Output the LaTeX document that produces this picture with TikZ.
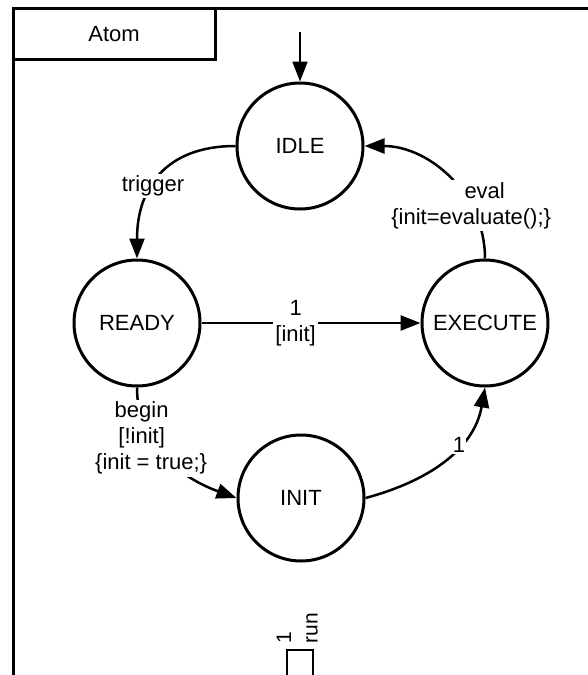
\documentclass[tikz,border=0pt]{standalone}
\usepackage{fontspec}
\setmainfont{Liberation Sans}
\usetikzlibrary{arrows.meta}
\begin{document}
\begin{tikzpicture}[x=1pt,y=1pt,
  txt/.style={font=\fontsize{22pt}{26pt}\selectfont},
  state/.style={circle,draw,line width=3pt,minimum size=126pt,inner sep=0pt,txt},
  trans/.style={line width=2.5pt,-{Triangle[length=20pt,width=15pt]}},
  lbl/.style={fill=white,inner sep=2pt,align=center,txt},
  portlbl/.style={rotate=90,inner sep=0pt,font=\fontsize{21pt}{24pt}\selectfont}]
\useasboundingbox (0,0) rectangle (588,-675);
\clip (0,0) rectangle (588,-675);
\fill[white] (0,0) rectangle (588,-675);
% outer frame (only left and top visible)
\draw[line width=3pt] (13,-720) -- (13,-8.5) -- (640,-8.5);
\node[draw,line width=3pt,minimum width=202pt,minimum height=51pt,inner sep=0pt,txt] (atom) at (114,-34) {Atom};
% states
\node[state] (idle) at (300,-146) {IDLE};
\node[state] (ready) at (137,-323) {READY};
\node[state] (exec) at (485,-323) {EXECUTE};
\node[state] (init) at (301,-498) {INIT};
% initial arrow
\coordinate (start) at (300,-32);
\draw[trans,line width=2pt] (start) -- (idle.north);
% transitions
\draw[trans] (idle.west) to[out=180,in=90,looseness=1.2] node[lbl,pos=0.58]{trigger} (ready.north);
\draw[trans] (ready.east) -- node[lbl,pos=0.43]{1\\{[init]}} (exec.west);
\draw[trans] (ready.south) to[out=-90,in=160] node[lbl,pos=0.3,xshift=3pt,yshift=-5pt]{begin\rule{19pt}{0pt}\\{[!init]}\rule{19pt}{0pt}\\\{init = true;\}} (init.west);
\draw[trans] (init.east) to[out=15,in=-100] node[lbl,pos=0.63,inner sep=1pt]{1} (exec.south);
\draw[trans] (exec.north) to[out=90,in=0] node[lbl,pos=0.3]{\rule{27pt}{0pt}eval\\\{init=evaluate();\}} (idle.east);
% port
\node[draw,line width=2.5pt,minimum width=26pt,minimum height=50pt,inner sep=0pt] (port) at (300,-675) {};
\node[portlbl] (portnum) at (284,-638) {1};
\node[portlbl] (portname) at (312,-628) {run};
\end{tikzpicture}
\end{document}
